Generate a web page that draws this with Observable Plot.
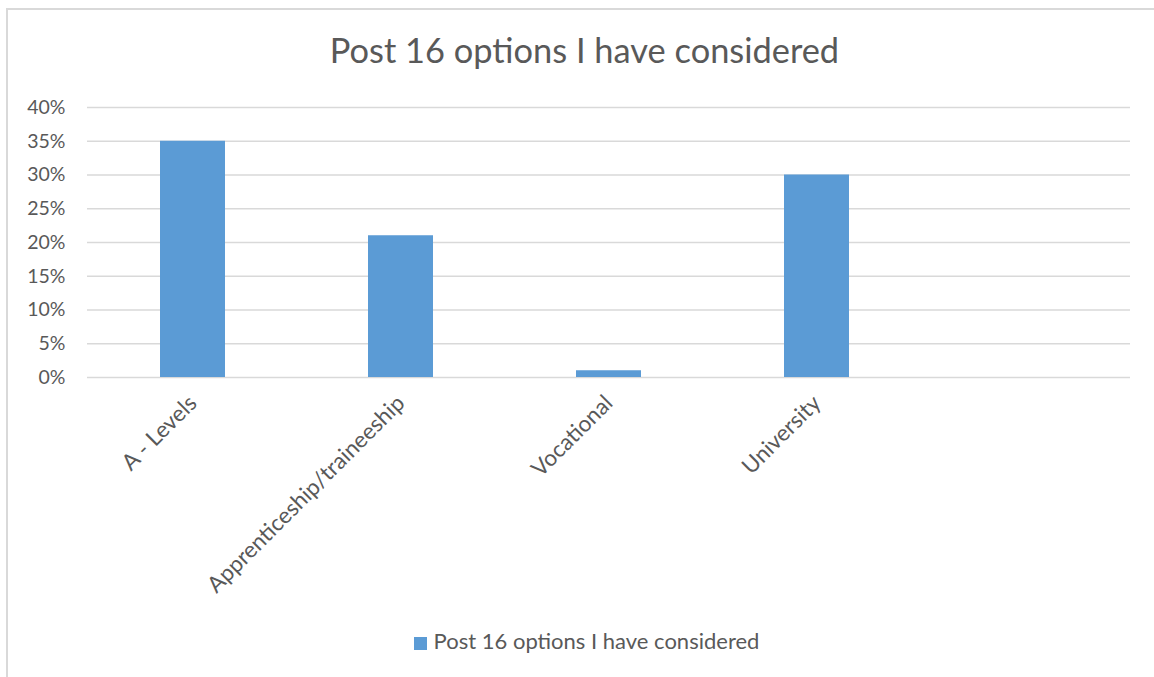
<!DOCTYPE html>
<html>
<head>
<meta charset="utf-8">
<script src="https://cdn.jsdelivr.net/npm/d3@7"></script>
<script src="https://cdn.jsdelivr.net/npm/@observablehq/plot@0.6"></script>
<style>
  html, body { margin: 0; padding: 0; background: #fff; }
  body { width: 1154px; height: 677px; position: relative; overflow: hidden; font-family: Lato, "Open Sans", sans-serif; color: #595959; }
  #frame { position: absolute; left: 6px; top: 8px; width: 1200px; height: 720px; border: 2px solid #d9d9d9; box-sizing: border-box; }
  #chart { position: absolute; left: 0; top: 0; }
  #title { position: absolute; left: 6px; width: 1157px; top: 30px; text-align: center; font-size: 34.4px; line-height: 40px; color: #595959; }
  #legend { position: absolute; left: 8px; width: 1157px; top: 628px; text-align: center; font-size: 22px; line-height: 26px; color: #595959; }
  #legend .sw { display: inline-block; width: 13px; height: 13px; background: #5b9bd5; margin-right: 7px; vertical-align: -1px; }
</style>
</head>
<body>
<div id="frame"></div>
<div id="chart"></div>
<div id="title">Post 16 options I have considered</div>
<div id="legend"><span class="sw"></span>Post 16 options I have considered</div>
<script>
const categories = ["A - Levels", "Apprenticeship/traineeship", "Vocational", "University", ""];
const values = [0.35, 0.21, 0.01, 0.30, null];
const yTicks = [0, 0.05, 0.10, 0.15, 0.20, 0.25, 0.30, 0.35, 0.40];

const data = categories.map((c, i) => ({category: c, value: values[i]})).filter(d => d.value != null);

const svg = Plot.plot({
  width: 1154,
  height: 677,
  marginLeft: 87,
  marginRight: 24,
  marginTop: 107,
  marginBottom: 300,
  style: {background: "transparent", fontFamily: "Lato, 'Open Sans', sans-serif", color: "#595959"},
  x: {domain: categories, paddingInner: 0.686, paddingOuter: 0.343, label: null},
  y: {domain: [0, 0.40], label: null},
  marks: [
    Plot.gridY(yTicks, {stroke: "#d9d9d9", strokeOpacity: 1, strokeWidth: 1.5}),
    Plot.barY(data, {x: "category", y: "value", fill: "#5b9bd5"}),
    Plot.axisY(yTicks, {tickSize: 0, tickPadding: 22, tickFormat: d3.format(".0%"), fontSize: 19.5, fill: "#595959", label: null}),
    Plot.axisX({tickSize: 0, tickRotate: -45, tickPadding: 22, fontSize: 22.5, fill: "#595959", label: null})
  ]
});
document.getElementById("chart").appendChild(svg);
</script>
</body>
</html>
